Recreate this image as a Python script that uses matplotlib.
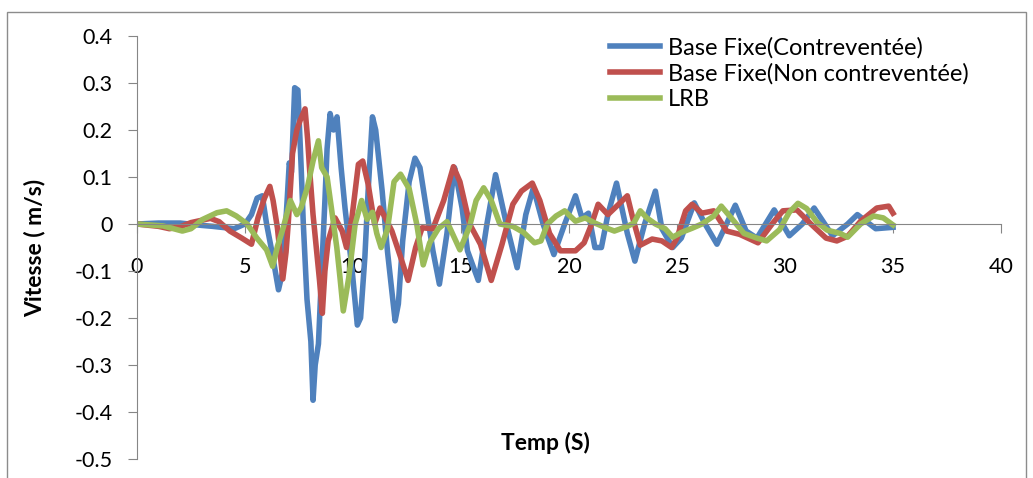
import matplotlib
matplotlib.use("Agg")
import matplotlib.pyplot as plt
from matplotlib.patches import Rectangle

plt.rcParams['font.family'] = ['Lato', 'DejaVu Sans']

# Base Fixe (Contreventee) - blue
t_blue = [0, 1, 2, 3, 3.5, 4.5, 5.0, 5.3, 5.56, 5.8, 6.0, 6.25, 6.55, 6.75, 6.95, 7.05, 7.15,
          7.3, 7.45, 7.6, 7.7, 7.87, 8.05, 8.15, 8.25, 8.4, 8.55, 8.7, 8.8, 8.94, 9.1, 9.26,
          9.45, 9.63, 9.95, 10.2, 10.35, 10.55, 10.7, 10.9, 11.05, 11.35, 11.6, 11.95, 12.1,
          12.3, 12.6, 12.87, 13.1, 13.7, 14.0, 14.35, 14.6, 14.7, 15.05, 15.3, 15.8, 16.2,
          16.6, 17.1, 17.6, 18.0, 18.35, 18.8, 19.3, 19.8, 20.3, 20.6, 20.9, 21.2, 21.5,
          21.8, 22.2, 22.7, 23.05, 23.5, 24.0, 24.3, 24.8, 25.2, 25.8, 26.3, 26.85, 27.7,
          28.2, 28.7, 29.5, 30.2, 30.8, 31.35, 32.2, 32.9, 33.35, 34.2, 35.0]
v_blue = [0, 0.002, 0.002, -0.003, -0.005, -0.01, 0.0, 0.02, 0.055, 0.06, 0.0, -0.06, -0.14,
          -0.1, 0.05, 0.13, 0.11, 0.29, 0.285, 0.12, 0.0, -0.16, -0.25, -0.375, -0.3, -0.255,
          -0.1, 0.05, 0.16, 0.235, 0.2, 0.228, 0.12, 0.034, -0.094, -0.215, -0.2, -0.07, 0.07,
          0.228, 0.2, 0.07, -0.06, -0.206, -0.17, -0.036, 0.09, 0.14, 0.12, -0.057, -0.128,
          -0.02, 0.085, 0.12, 0.034, -0.057, -0.12, 0.0, 0.105, 0.0, -0.093, 0.02, 0.077, 0.0,
          -0.065, 0.0, 0.06, 0.013, 0.023, -0.05, -0.05, 0.02, 0.087, -0.02, -0.079, 0.0, 0.07,
          -0.01, -0.05, -0.03, 0.045, 0.0, -0.043, 0.04, -0.015, -0.03, 0.03, -0.025, 0.0,
          0.034, -0.025, 0.0, 0.02, -0.01, -0.007]

# Base Fixe (Non contreventee) - red
t_red = [0, 1, 1.5, 2, 2.5, 3.0, 3.4, 3.8, 4.3, 4.85, 5.3, 5.6, 5.9, 6.15, 6.3, 6.5, 6.75,
         6.9, 7.0, 7.2, 7.4, 7.55, 7.78, 7.9, 8.0, 8.15, 8.3, 8.45, 8.58, 8.7, 8.85, 9.17,
         9.5, 9.7, 9.95, 10.25, 10.45, 10.7, 11.0, 11.25, 11.5, 11.8, 12.2, 12.55, 12.9,
         13.2, 13.7, 14.2, 14.65, 14.95, 15.4, 15.9, 16.4, 16.9, 17.4, 17.8, 18.3, 18.65,
         19.1, 19.6, 20.3, 20.7, 21.05, 21.35, 21.8, 22.3, 22.7, 22.95, 23.3, 23.85, 24.3,
         24.75, 25.0, 25.4, 25.7, 26.15, 26.7, 27.3, 27.9, 28.75, 29.4, 29.9, 30.55, 31.2,
         31.9, 32.4, 32.9, 33.5, 34.25, 34.8, 35.0]
v_red = [0, -0.005, -0.01, -0.006, 0.003, 0.008, 0.012, 0.005, -0.015, -0.03, -0.043, 0.013,
         0.055, 0.08, 0.05, -0.008, -0.117, -0.06, 0.0, 0.15, 0.2, 0.22, 0.245, 0.18, 0.11,
         0.02, -0.05, -0.12, -0.19, -0.1, -0.036, 0.013, -0.015, -0.05, 0.013, 0.127, 0.134,
         0.085, 0.0, 0.034, 0.013, -0.015, -0.07, -0.12, -0.05, -0.008, -0.01, 0.05, 0.122,
         0.09, 0.0, -0.043, -0.12, -0.043, 0.042, 0.07, 0.087, 0.05, -0.02, -0.057, -0.057,
         -0.04, 0.0, 0.042, 0.02, 0.042, 0.06, 0.013, -0.045, -0.032, -0.036, -0.05, -0.03,
         0.028, 0.042, 0.023, 0.028, -0.015, -0.022, -0.04, 0.0, 0.028, 0.03, 0.0, -0.03,
         -0.036, -0.026, 0.006, 0.034, 0.038, 0.023]

# LRB - green
t_green = [0, 1.2, 2.1, 2.5, 3.05, 3.7, 4.15, 4.6, 5.1, 5.55, 6.0, 6.28, 6.5, 6.77, 7.1, 7.4,
           7.6, 7.9, 8.15, 8.4, 8.55, 8.8, 9.0, 9.25, 9.4, 9.55, 9.8, 10.1, 10.4, 10.65, 10.9,
           11.1, 11.3, 11.6, 11.9, 12.2, 12.6, 12.95, 13.25, 13.55, 13.95, 14.35, 14.6, 14.95,
           15.4, 15.7, 16.05, 16.4, 16.8, 17.4, 17.9, 18.4, 18.7, 19.0, 19.4, 19.8, 20.3,
           20.75, 21.2, 21.7, 22.1, 22.7, 23.0, 23.3, 23.6, 24.0, 24.45, 24.8, 25.2, 25.7,
           26.15, 26.7, 27.05, 27.6, 28.1, 28.7, 29.15, 29.75, 30.2, 30.6, 31.0, 31.5, 31.95,
           32.55, 32.9, 33.5, 34.1, 34.55, 35.0]
v_green = [0, -0.004, -0.015, -0.01, 0.01, 0.024, 0.028, 0.017, 0.0, -0.03, -0.055, -0.09,
           -0.048, -0.008, 0.05, 0.02, 0.035, 0.08, 0.134, 0.177, 0.12, 0.1, 0.034, -0.05,
           -0.115, -0.185, -0.115, 0.0, 0.05, 0.01, 0.025, -0.02, -0.05, -0.01, 0.09, 0.106,
           0.075, 0.0, -0.087, -0.04, -0.01, 0.005, -0.02, -0.055, -0.005, 0.05, 0.077, 0.05,
           0.0, -0.005, -0.018, -0.04, -0.036, 0.0, 0.017, 0.028, 0.006, 0.013, 0.002, -0.008,
           -0.015, -0.005, 0.002, 0.028, 0.013, 0.0, -0.01, -0.028, -0.018, -0.009, 0.0, 0.017,
           0.038, 0.008, -0.02, -0.03, -0.036, -0.012, 0.025, 0.044, 0.033, 0.003, -0.013,
           -0.02, -0.028, 0.0, 0.017, 0.013, -0.002]

labels = ['Base Fixe(Contreventée)', 'Base Fixe(Non contreventée)', 'LRB']
colors = ['#4F81BD', '#C0504D', '#9BBB59']

W, H = 1033, 478
fig = plt.figure(figsize=(W / 100, H / 100), dpi=100)
ax = fig.add_axes([137 / W, 1 - 459 / H, 864 / W, 423 / H])

# outer chart border like excel
fig.patches.append(Rectangle((7 / W, -0.05), 1019 / W, 1 - 12 / H + 0.05,
                             transform=fig.transFigure, fill=False,
                             edgecolor='#8c8c8c', linewidth=1))

for t, v, lab, c in zip([t_blue, t_red, t_green], [v_blue, v_red, v_green], labels, colors):
    ax.plot(t, v, color=c, linewidth=4.0, label=lab, solid_joinstyle='round')

ax.set_xlim(0, 40)
ax.set_ylim(-0.5, 0.4)
ax.set_xticks([0, 5, 10, 15, 20, 25, 30, 35, 40])
ax.set_yticks([0.4, 0.3, 0.2, 0.1, 0, -0.1, -0.2, -0.3, -0.4, -0.5])
ax.set_yticklabels(['0.4', '0.3', '0.2', '0.1', '0', '-0.1', '-0.2', '-0.3', '-0.4', '-0.5'])

ax.spines['top'].set_visible(False)
ax.spines['right'].set_visible(False)
ax.spines['bottom'].set_position(('data', 0))
ax.spines['bottom'].set_color('#868686')
ax.spines['left'].set_color('#868686')
ax.tick_params(axis='both', colors='#868686', labelcolor='black', labelsize=15.5,
               direction='out', length=6.5)
ax.tick_params(axis='x', pad=17)
ax.tick_params(axis='y', pad=11)

ax.set_ylabel('Vitesse ( m/s)', fontsize=16.5, fontweight='bold')
ax.yaxis.set_label_coords(-0.106, 0.5)
ax.text(0.473, 0.038, 'Temp (S)', transform=ax.transAxes, ha='center', va='center',
        fontsize=16.5, fontweight='bold')

ax.legend(loc='upper left', bbox_to_anchor=(610 / W, 1 - 37 / H), bbox_transform=fig.transFigure,
          frameon=False, fontsize=17, handlelength=2.1, handletextpad=0.35,
          labelspacing=0.19, borderpad=0, borderaxespad=0)

fig.savefig('out.png', dpi=100)
